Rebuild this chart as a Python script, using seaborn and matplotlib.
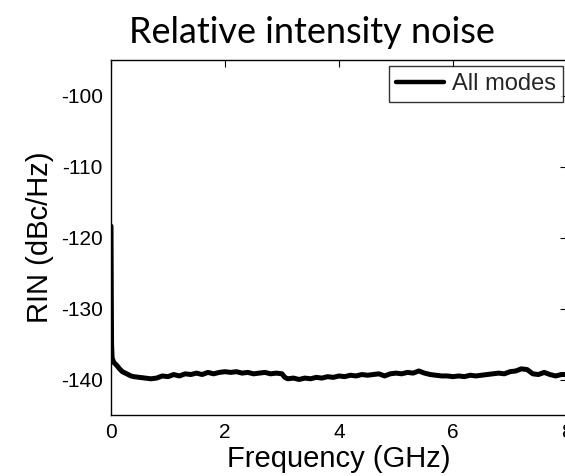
import numpy as np
import pandas as pd
import matplotlib
matplotlib.use("Agg")
import matplotlib.pyplot as plt
import seaborn as sns

freq_ghz = [0.0, 0.005, 0.01, 0.02, 0.05, 0.1, 0.15, 0.2, 0.25, 0.3, 0.35, 0.4,
            0.5, 0.6, 0.7, 0.8, 0.9, 1.0, 1.1, 1.2, 1.3, 1.4, 1.5, 1.6, 1.7, 1.8, 1.9,
            2.0, 2.1, 2.2, 2.3, 2.4, 2.5, 2.6, 2.7, 2.8, 2.9, 3.0, 3.05, 3.1, 3.2, 3.3,
            3.4, 3.5, 3.6, 3.7, 3.8, 3.9, 4.0, 4.1, 4.2, 4.3, 4.4, 4.5, 4.6, 4.7, 4.8,
            4.9, 5.0, 5.1, 5.2, 5.3, 5.4, 5.5, 5.6, 5.7, 5.8, 5.9, 6.0, 6.1, 6.2, 6.3,
            6.4, 6.5, 6.6, 6.7, 6.8, 6.9, 7.0, 7.1, 7.2, 7.3, 7.4, 7.5, 7.6, 7.7, 7.8,
            7.9, 8.0]
rin_dbc = [-118.4, -128.0, -135.0, -137.0, -137.6, -138.0, -138.5, -138.9, -139.1,
           -139.3, -139.5, -139.6, -139.7, -139.8, -139.9, -139.8, -139.5, -139.6,
           -139.3, -139.5, -139.2, -139.3, -139.1, -139.3, -139.0, -139.2, -139.0,
           -138.9, -139.0, -138.9, -139.1, -139.0, -139.2, -139.1, -139.0, -139.2,
           -139.1, -139.2, -139.7, -139.9, -139.8, -140.0, -139.8, -139.9, -139.7,
           -139.8, -139.6, -139.7, -139.5, -139.6, -139.4, -139.5, -139.3, -139.4,
           -139.3, -139.2, -139.5, -139.2, -139.1, -139.2, -139.0, -139.1, -138.8,
           -139.1, -139.3, -139.4, -139.5, -139.5, -139.6, -139.5, -139.6, -139.4,
           -139.5, -139.4, -139.3, -139.2, -139.1, -139.2, -138.9, -138.8, -138.5,
           -138.6, -139.2, -139.3, -139.0, -139.3, -139.5, -139.3, -139.3]
series_name = "All modes"
x_ticks = [0, 2, 4, 6, 8]
y_ticks = [-140, -130, -120, -110, -100]

df = pd.DataFrame({"Frequency": freq_ghz, "RIN": rin_dbc, "series": series_name})

sns.set_theme(style="white")
plt.rcParams["font.family"] = ["Liberation Sans", "DejaVu Sans"]

fig = plt.figure(figsize=(5.65, 4.76), dpi=100)
ax = fig.add_axes([111 / 565, 1 - 415 / 476, (567 - 111) / 565, (415 - 60) / 476])

sns.lineplot(data=df, x="Frequency", y="RIN", hue="series", palette=["black"],
             linewidth=3.6, ax=ax, legend=True)

ax.set_xlim(0, 8)
ax.set_ylim(-145, -95)
ax.set_xticks(x_ticks)
ax.set_yticks(y_ticks)
ax.set_xticklabels([str(t) for t in x_ticks])
ax.set_yticklabels([str(t) for t in y_ticks])
ax.tick_params(direction="in", length=5, width=0.8, top=True, right=True,
               labelsize=15, colors="black", pad=6)
for s in ax.spines.values():
    s.set_color("black")
    s.set_linewidth(1.0)

ax.set_xlabel("Frequency (GHz)", fontsize=21, color="black", labelpad=2)
ax.set_ylabel("RIN (dBc/Hz)", fontsize=21, color="black", labelpad=5)

leg = ax.legend(loc="upper right", bbox_to_anchor=(563 / 565, 1 - 66 / 476),
                bbox_transform=fig.transFigure, fontsize=17, frameon=True,
                fancybox=False, edgecolor="black", handlelength=2.0,
                handletextpad=0.35, borderpad=0.3, borderaxespad=0)
leg.get_frame().set_linewidth(1.0)
for line in leg.get_lines():
    line.set_linewidth(3.2)

fig.text(311.5 / 565, 1 - 43 / 476, "Relative intensity noise", ha="center",
         va="baseline", fontsize=26, family=["Lato", "DejaVu Sans"], color="black")

fig.savefig("out.png", dpi=100)
